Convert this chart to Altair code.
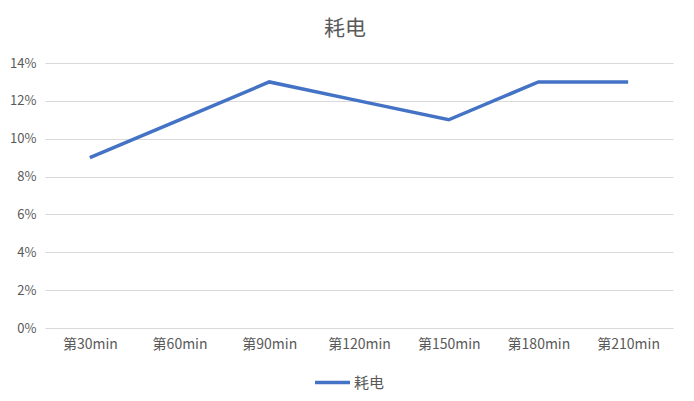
import altair as alt
import pandas as pd

categories = ["第30min", "第60min", "第90min", "第120min", "第150min", "第180min", "第210min"]
values = [0.09, 0.11, 0.13, 0.12, 0.11, 0.13, 0.13]
series = "耗电"

df = pd.DataFrame({"时间": categories, "耗电": values, "系列": [series] * len(categories)})

FONT = "Noto Sans CJK SC"
GRAY = "#595959"
BLUE = "#4472C4"

chart = alt.Chart(df).mark_line(strokeWidth=3.5).encode(
    x=alt.X("时间:N", sort=categories, title=None,
            scale=alt.Scale(type="point", padding=0.5),
            axis=alt.Axis(labelAngle=0, ticks=False, domain=False, grid=False,
                          labelColor=GRAY, labelFontSize=14, labelFont=FONT, labelPadding=9)),
    y=alt.Y("耗电:Q", title=None,
            scale=alt.Scale(domain=[0, 0.14], nice=False),
            axis=alt.Axis(format=".0%", values=[0, 0.02, 0.04, 0.06, 0.08, 0.10, 0.12, 0.14],
                          ticks=False, domain=False, gridColor="#D9D9D9", gridWidth=1,
                          labelColor=GRAY, labelFontSize=13, labelFont=FONT, labelPadding=9)),
    color=alt.Color("系列:N", scale=alt.Scale(range=[BLUE]),
                    legend=alt.Legend(title=None, orient="none", legendX=268, legendY=300,
                                      symbolType="stroke", symbolStrokeWidth=3.5, symbolSize=1225,
                                      symbolStrokeColor=BLUE,
                                      labelFont=FONT, labelFontSize=15, labelColor=GRAY,
                                      labelOffset=2)),
).properties(
    width=628, height=265,
    title=alt.TitleParams(series, font=FONT, fontSize=21, fontWeight="normal", color=GRAY,
                          anchor="middle", offset=18, dx=-14),
    autosize=alt.AutoSizeParams(type="none"),
    padding={"left": 37, "top": 55, "right": 10, "bottom": 64},
).configure(background="white").configure_view(stroke=None)

chart.save("out.html", embed_options={"renderer": "svg", "actions": False})
